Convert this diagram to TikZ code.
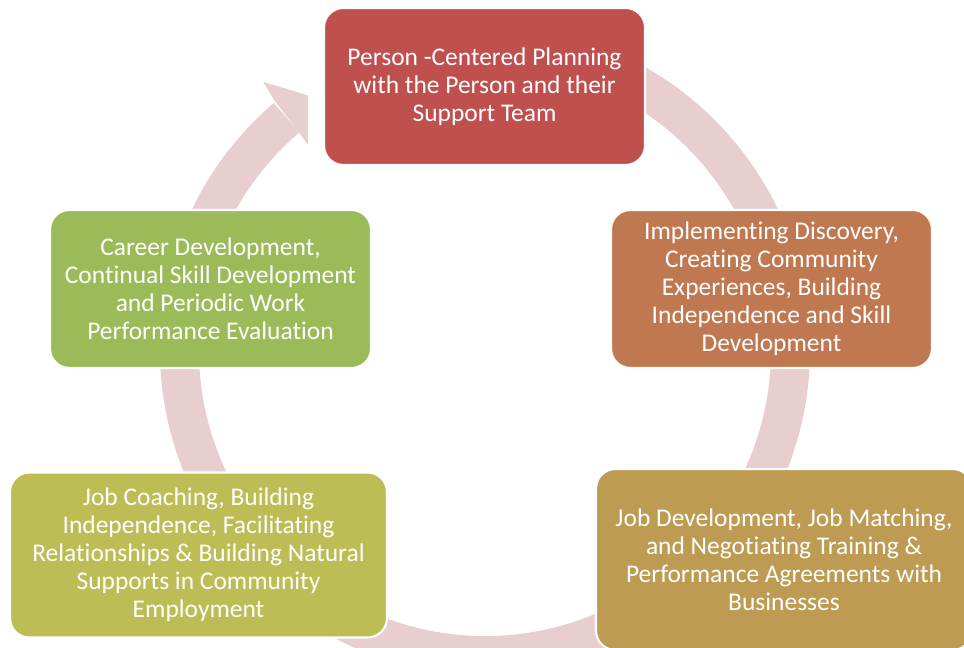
\documentclass[tikz,border=0pt]{standalone}
\usepackage{fontspec}
\setmainfont{Carlito}[Ligatures=NoCommon]
\usepackage{tikz}

\definecolor{ringpink}{HTML}{E8CECF}
\definecolor{planred}{HTML}{C0504D}
\definecolor{discoverybrown}{HTML}{C07850}
\definecolor{jobgold}{HTML}{BE9B52}
\definecolor{coacholive}{HTML}{BDBD56}
\definecolor{careergreen}{HTML}{9BBB59}

\begin{document}
\begin{tikzpicture}[x=0.02cm,y=0.02cm]

	\tikzstyle stage=[draw=white, line width=1.2pt, rounded corners=11pt, text=white, align=center, inner sep=0pt, font=\fontsize{14.5}{15.9}\selectfont];
	\tikzstyle cycle line=[draw=ringpink, line width=0.78cm];

	\useasboundingbox (0,0) rectangle (964,648);

	% ring with its arrowhead
	\coordinate (ctr) at (485,298);
	\draw[cycle line] (ctr) ++(75:305.5) arc[start angle=75, end angle=-229.5, radius=305.5];
	\begin{scope}[shift={(ctr)}]
		\fill[ringpink] (130.2:325) -- (129.6:348) -- (124.8:310) -- (130.8:271) -- (130.5:286) -- cycle;
	\end{scope}

	% stages
	\node[stage, fill=planred, minimum width=6.42cm, minimum height=3.14cm] (plan) at (484.5,561.5) {Person -Centered Planning\\with the Person and their\\Support Team};
	\node[stage, fill=discoverybrown, minimum width=6.42cm, minimum height=3.16cm] (discovery) at (771.5,359) {Implementing Discovery,\\Creating Community\\Experiences, Building\\Independence and Skill\\Development};
	\node[stage, fill=jobgold, minimum width=7.52cm, minimum height=3.62cm] (jobdev) at (784,88.5) {Job Development, Job Matching,\\and Negotiating Training \&\\Performance Agreements with\\Businesses};
	\node[stage, fill=coacholive, minimum width=7.54cm, minimum height=3.30cm] (coaching) at (198.5,93) {Job Coaching, Building\\Independence, Facilitating\\Relationships \& Building Natural\\Supports in Community\\Employment};
	\node[stage, fill=careergreen, minimum width=6.42cm, minimum height=3.16cm] (career) at (210.5,359) {Career Development,\\Continual Skill Development\\and Periodic Work\\Performance Evaluation};

\end{tikzpicture}
\end{document}
